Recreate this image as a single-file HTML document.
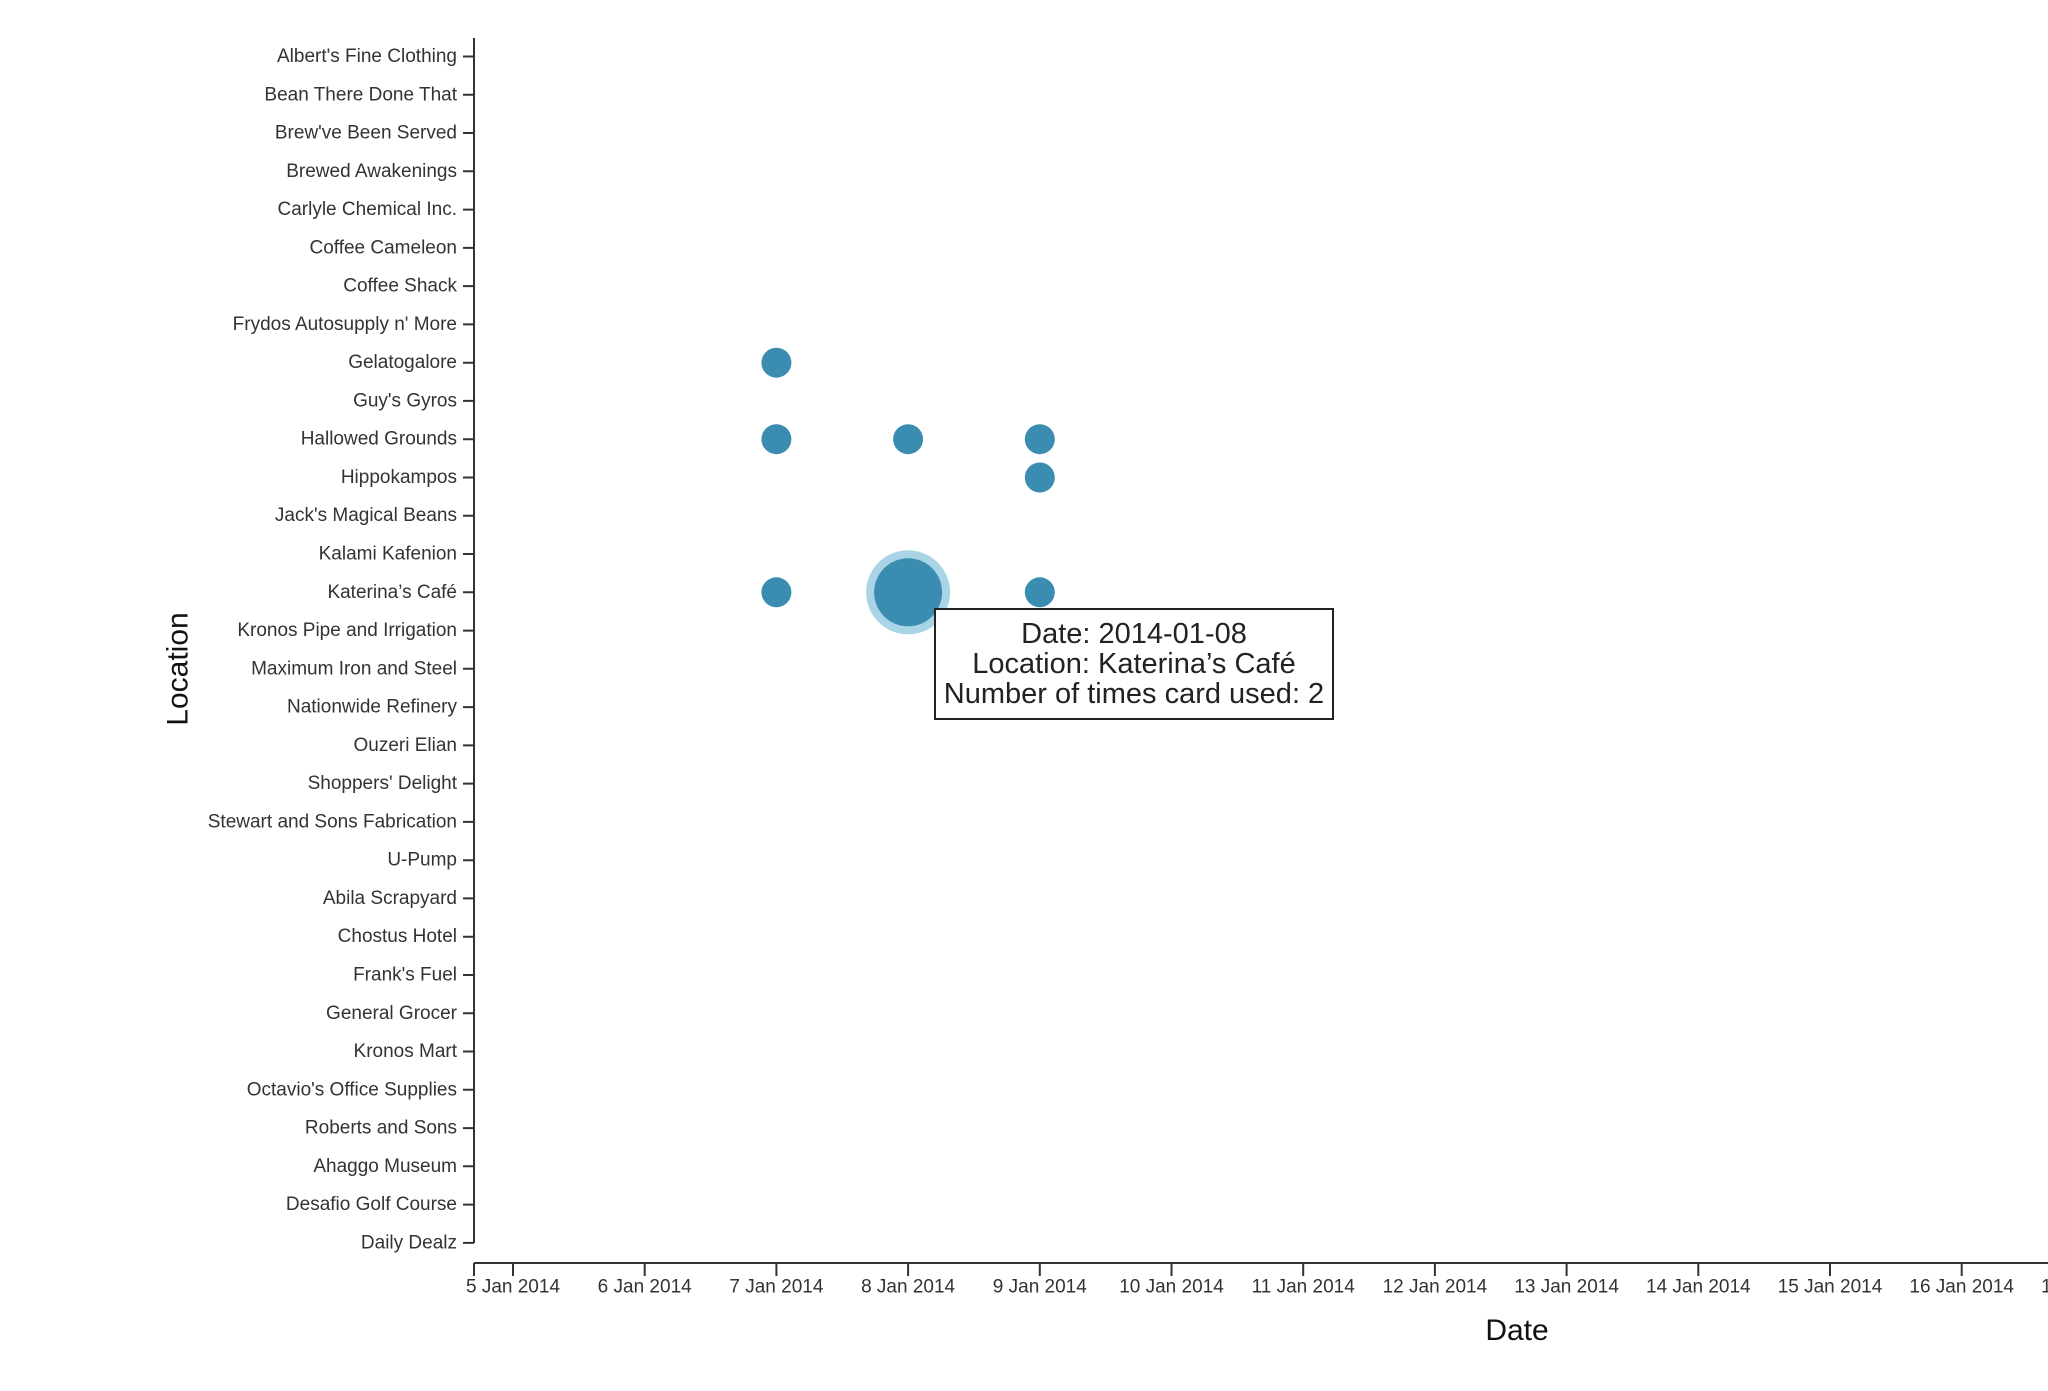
<!DOCTYPE html>
<html><head><meta charset="utf-8"><style>
html,body{margin:0;padding:0;background:#fff;}
svg{display:block;font-family:"Liberation Sans",Arial,sans-serif;}
</style></head><body>
<svg width="2048" height="1391" viewBox="0 0 2048 1391" xmlns="http://www.w3.org/2000/svg">
<g stroke="#333" stroke-width="2" fill="none">
<line x1="474" y1="38" x2="474" y2="1243"/>
<line x1="474" y1="1263" x2="2048" y2="1263"/>
<path d="M463 56.5H474M463 94.8H474M463 133H474M463 171.3H474M463 209.6H474M463 247.9H474M463 286.1H474M463 324.4H474M463 362.7H474M463 400.9H474M463 439.2H474M463 477.5H474M463 515.7H474M463 554H474M463 592.3H474M463 630.6H474M463 668.8H474M463 707.1H474M463 745.4H474M463 783.6H474M463 821.9H474M463 860.2H474M463 898.4H474M463 936.7H474M463 975H474M463 1013.3H474M463 1051.5H474M463 1089.8H474M463 1128.1H474M463 1166.3H474M463 1204.6H474M463 1242.9H474"/>
<path d="M474 1263V1276M513 1263V1276M644.7 1263V1276M776.4 1263V1276M908.1 1263V1276M1039.8 1263V1276M1171.5 1263V1276M1303.2 1263V1276M1434.9 1263V1276M1566.6 1263V1276M1698.3 1263V1276M1830 1263V1276M1961.7 1263V1276"/>
</g>
<g fill="#333" font-size="19" text-anchor="end" dominant-baseline="central">
<text x="457" y="56.5">Albert's Fine Clothing</text>
<text x="457" y="94.8">Bean There Done That</text>
<text x="457" y="133">Brew've Been Served</text>
<text x="457" y="171.3">Brewed Awakenings</text>
<text x="457" y="209.6">Carlyle Chemical Inc.</text>
<text x="457" y="247.9">Coffee Cameleon</text>
<text x="457" y="286.1">Coffee Shack</text>
<text x="457" y="324.4">Frydos Autosupply n' More</text>
<text x="457" y="362.7">Gelatogalore</text>
<text x="457" y="400.9">Guy's Gyros</text>
<text x="457" y="439.2">Hallowed Grounds</text>
<text x="457" y="477.5">Hippokampos</text>
<text x="457" y="515.7">Jack's Magical Beans</text>
<text x="457" y="554">Kalami Kafenion</text>
<text x="457" y="592.3">Katerina’s Café</text>
<text x="457" y="630.6">Kronos Pipe and Irrigation</text>
<text x="457" y="668.8">Maximum Iron and Steel</text>
<text x="457" y="707.1">Nationwide Refinery</text>
<text x="457" y="745.4">Ouzeri Elian</text>
<text x="457" y="783.6">Shoppers' Delight</text>
<text x="457" y="821.9">Stewart and Sons Fabrication</text>
<text x="457" y="860.2">U-Pump</text>
<text x="457" y="898.4">Abila Scrapyard</text>
<text x="457" y="936.7">Chostus Hotel</text>
<text x="457" y="975">Frank's Fuel</text>
<text x="457" y="1013.3">General Grocer</text>
<text x="457" y="1051.5">Kronos Mart</text>
<text x="457" y="1089.8">Octavio's Office Supplies</text>
<text x="457" y="1128.1">Roberts and Sons</text>
<text x="457" y="1166.3">Ahaggo Museum</text>
<text x="457" y="1204.6">Desafio Golf Course</text>
<text x="457" y="1242.9">Daily Dealz</text>
</g>
<g fill="#333" font-size="19" text-anchor="middle" dominant-baseline="central">
<text x="513" y="1287">5 Jan 2014</text>
<text x="644.7" y="1287">6 Jan 2014</text>
<text x="776.4" y="1287">7 Jan 2014</text>
<text x="908.1" y="1287">8 Jan 2014</text>
<text x="1039.8" y="1287">9 Jan 2014</text>
<text x="1171.5" y="1287">10 Jan 2014</text>
<text x="1303.2" y="1287">11 Jan 2014</text>
<text x="1434.9" y="1287">12 Jan 2014</text>
<text x="1566.6" y="1287">13 Jan 2014</text>
<text x="1698.3" y="1287">14 Jan 2014</text>
<text x="1830" y="1287">15 Jan 2014</text>
<text x="1961.7" y="1287">16 Jan 2014</text>
<text x="2093.4" y="1287">17 Jan 2014</text>
</g>
<text x="178" y="669" font-size="30" fill="#111" text-anchor="middle" dominant-baseline="central" transform="rotate(-90 178 669)">Location</text>
<text x="1517" y="1340" font-size="30" fill="#111" text-anchor="middle">Date</text>
<g fill="#3a8db0">
<circle cx="776.4" cy="362.7" r="15"/>
<circle cx="776.4" cy="439.2" r="15"/>
<circle cx="908.1" cy="439.2" r="15"/>
<circle cx="1039.8" cy="439.2" r="15"/>
<circle cx="1039.8" cy="477.5" r="15"/>
<circle cx="776.4" cy="592.3" r="15"/>
<circle cx="1039.8" cy="592.3" r="15"/>
<circle cx="908.1" cy="592.3" r="42" fill="#a8d4e6"/>
<circle cx="908.1" cy="592.3" r="34"/>
</g>
<rect x="935" y="609" width="398" height="110" fill="#fff" stroke="#222" stroke-width="2"/>
<g font-size="29" fill="#222" text-anchor="middle">
<text x="1134" y="643">Date: 2014-01-08</text>
<text x="1134" y="673">Location: Katerina’s Café</text>
<text x="1134" y="703">Number of times card used: 2</text>
</g>
</svg>
</body></html>
